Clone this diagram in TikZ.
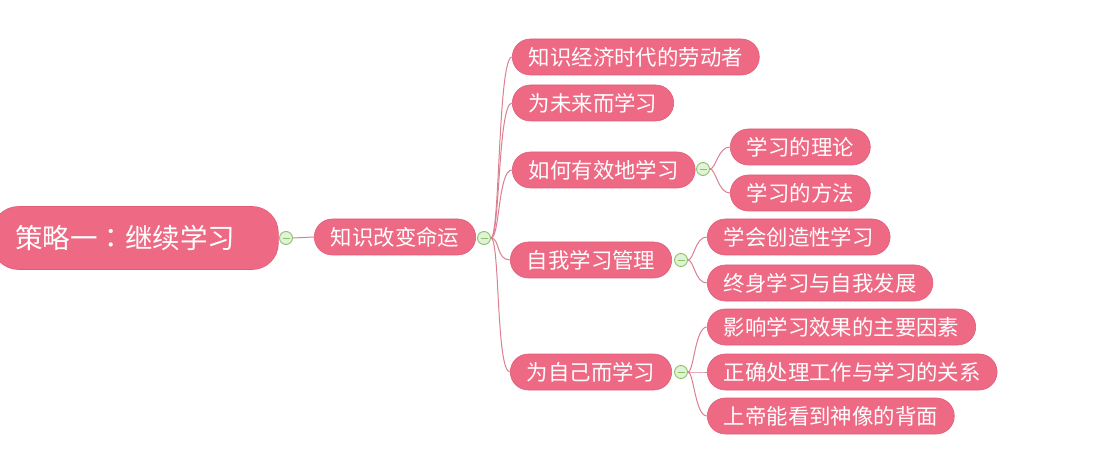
\documentclass[tikz,border=0pt]{standalone}
\usepackage{fontspec}
\setmainfont{Noto Sans CJK SC}
\newfontfamily\cjktc{Noto Sans CJK TC}
\definecolor{pinkfill}{HTML}{EE6A84}
\definecolor{pinkedge}{HTML}{E25C77}
\definecolor{linkc}{HTML}{DB8090}
\definecolor{togfill}{HTML}{E2F2D6}
\definecolor{togedge}{HTML}{86C46C}
\begin{document}
\begin{tikzpicture}[x=1pt,y=-1pt,
  topic/.style={fill=pinkfill,draw=pinkedge,line width=0.6pt,text=white,
    rounded corners=18pt,minimum height=36pt,inner ysep=0pt,inner xsep=16.5pt,
    anchor=west,font=\fontsize{21.4}{21.4}\selectfont},
  roottopic/.style={fill=pinkfill,draw=pinkedge,line width=0.6pt,text=white,
    rounded corners=26pt,minimum height=63pt,minimum width=286pt,inner xsep=0pt,
    anchor=west,font=\fontsize{27}{27}\selectfont},
  toggle/.style={circle,fill=togfill,draw=togedge,line width=0.9pt,minimum size=13pt,inner sep=0pt},
  link/.style={draw=linkc,line width=1pt}]
\useasboundingbox (0,0) rectangle (1116,462);
\fill[white] (0,0) rectangle (1116,462);
% root
\node[roottopic] (root) at (-8,238) {};
\node[anchor=west,text=white,font=\fontsize{27.5}{27.5}\selectfont,inner sep=0pt] (roottext) at (15,238) {策略一{\cjktc ：}继续学习};
\node[toggle] (t0) at (286,238) {};
\node[topic] (k) at (314,237) {知识改变命运};
\node[toggle] (t1) at (484,238) {};
% level 2
\node[topic] (a) at (512,57) {知识经济时代的劳动者};
\node[topic] (b) at (512,103) {为未来而学习};
\node[topic] (c) at (512,170) {如何有效地学习};
\node[topic] (d) at (510,260) {自我学习管理};
\node[topic] (e) at (510,372) {为自己而学习};
% toggles level 2
\node[toggle] (tc) at (703,169) {};
\node[toggle] (td) at (681,260) {};
\node[toggle] (te) at (681,372) {};
% level 3
\node[topic] (c1) at (730,147) {学习的理论};
\node[topic] (c2) at (730,193) {学习的方法};
\node[topic] (d1) at (707,237) {学会创造性学习};
\node[topic] (d2) at (707,283) {终身学习与自我发展};
\node[topic] (e1) at (707,327) {影响学习效果的主要因素};
\node[topic] (e2) at (707,372) {正确处理工作与学习的关系};
\node[topic] (e3) at (707,416) {上帝能看到神像的背面};
% toggle minus signs
\foreach \t in {t0,t1,tc,td,te}{
  \draw[togedge,line width=0.9pt] ([xshift=-3.5pt]\t.center) -- ([xshift=3.5pt]\t.center);
}
% connectors
\draw[link] (t0.east) -- (k.west);
\foreach \n in {a,b,c,d,e}{
  \draw[link] (t1.east) .. controls ([xshift=9pt]t1.east) and ([xshift=-14pt]\n.west) .. (\n.west);
}
\foreach \n in {c1,c2}{
  \draw[link] (tc.east) .. controls ([xshift=6pt]tc.east) and ([xshift=-12pt]\n.west) .. (\n.west);
}
\foreach \n in {d1,d2}{
  \draw[link] (td.east) .. controls ([xshift=6pt]td.east) and ([xshift=-12pt]\n.west) .. (\n.west);
}
\foreach \n in {e1,e2,e3}{
  \draw[link] (te.east) .. controls ([xshift=6pt]te.east) and ([xshift=-12pt]\n.west) .. (\n.west);
}
\end{tikzpicture}
\end{document}
